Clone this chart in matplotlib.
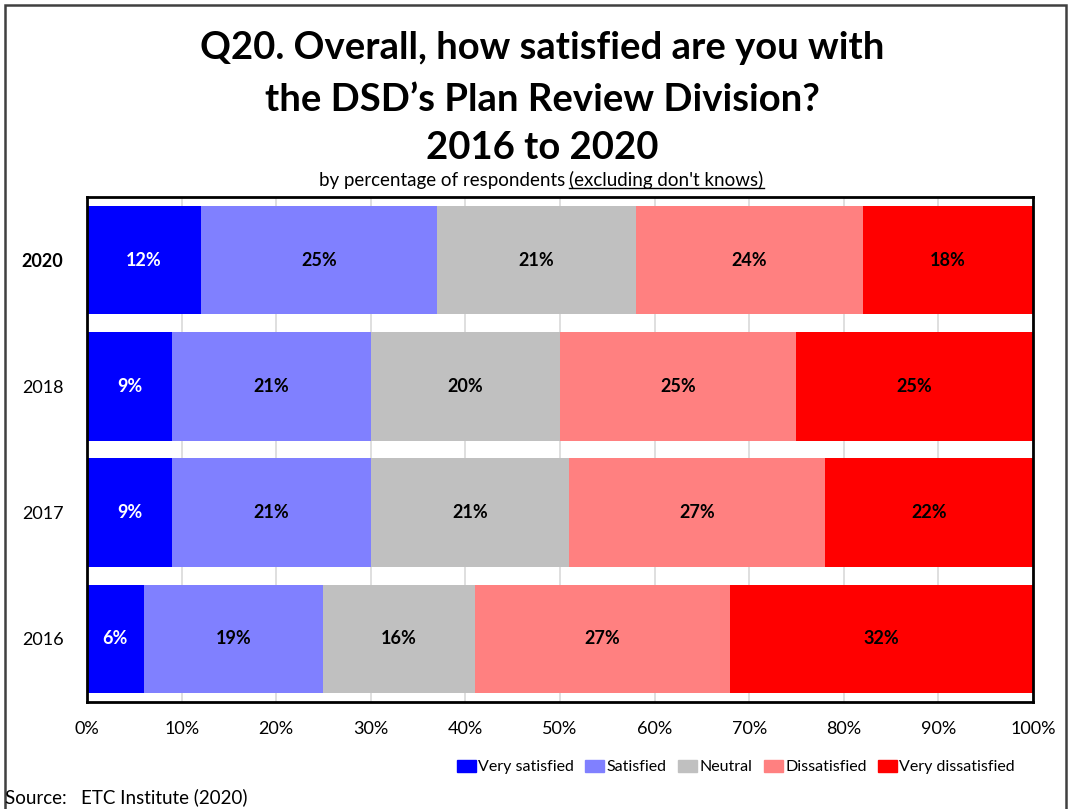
import matplotlib.pyplot as plt
from matplotlib.patches import Rectangle
from matplotlib.lines import Line2D
import numpy as np

plt.rcParams['font.family'] = ['Lato', 'DejaVu Sans']

# survey years, top to bottom
years = ['2020', '2018', '2017', '2016']
levels = ['Very satisfied', 'Satisfied', 'Neutral', 'Dissatisfied', 'Very dissatisfied']
very_satisfied = [12, 9, 9, 6]
satisfied = [25, 21, 21, 19]
neutral = [21, 20, 21, 16]
dissatisfied = [24, 25, 27, 27]
very_dissatisfied = [18, 25, 22, 32]

colors = ['#0000ff', '#8080ff', '#c0c0c0', '#ff8080', '#ff0000']
label_colors = ['white', 'black', 'black', 'black', 'black']
series = [very_satisfied, satisfied, neutral, dissatisfied, very_dissatisfied]

fig = plt.figure(figsize=(10.7, 8.09), dpi=100)
ax = fig.add_axes([0.0813, 0.1323, 0.8841, 0.6242])

ypos = np.arange(len(years))[::-1]
left = np.zeros(len(years))
for vals, col, tcol, name in zip(series, colors, label_colors, levels):
    vals = np.array(vals, dtype=float)
    bars = ax.barh(ypos, vals, left=left, height=0.86, color=col, label=name, zorder=2)
    for b, v in zip(bars, vals):
        ax.text(b.get_x() + b.get_width() / 2, b.get_y() + b.get_height() / 2,
                f'{v:.0f}%', ha='center', va='center', color=tcol,
                fontsize=13, fontweight='bold', zorder=3)
    left += vals

ax.set_xlim(0, 100)
ax.set_ylim(-0.5, len(years) - 0.5)
ax.set_xticks(np.arange(0, 101, 10))
ax.set_xticklabels([f'{v}%' for v in range(0, 101, 10)], fontsize=13)
ax.set_yticks(ypos)
ax.set_yticklabels(years, fontsize=13)
ax.get_yticklabels()[0].set_fontweight('bold')
ax.tick_params(axis='both', length=0)
ax.tick_params(axis='x', pad=14)
ax.tick_params(axis='y', pad=17)
ax.grid(axis='x', color='#d9d9d9', linewidth=1.2, zorder=0)
ax.set_axisbelow(True)
for s in ax.spines.values():
    s.set_linewidth(2)
    s.set_color('black')

# legend along the bottom right
handles = [Rectangle((0, 0), 1, 1, color=c) for c in colors]
fig.legend(handles, levels, loc='center right', bbox_to_anchor=(0.962, 0.052),
           ncol=5, frameon=False, fontsize=11.5, handlelength=1.2, handleheight=0.8,
           handletextpad=0.15, columnspacing=0.7)

# title block
fig.text(0.507, 0.941, 'Q20. Overall, how satisfied are you with',
         ha='center', va='center', fontsize=27.5, fontweight='bold')
fig.text(0.507, 0.877, 'the DSD\u2019s Plan Review Division?',
         ha='center', va='center', fontsize=27.5, fontweight='bold')
fig.text(0.507, 0.817, '2016 to 2020',
         ha='center', va='center', fontsize=27.5, fontweight='bold')

# subtitle with underlined part
sub_y = 0.777
t1 = fig.text(0, sub_y, 'by percentage of respondents', ha='left', va='center', fontsize=13.5)
t2 = fig.text(0, sub_y, "(excluding don't knows)", ha='left', va='center', fontsize=13.5)
fig.canvas.draw()
r = fig.canvas.get_renderer()
fw = fig.bbox.width
w1 = t1.get_window_extent(r).width / fw
w2 = t2.get_window_extent(r).width / fw
gap = 4 / fw
x0 = 0.506 - (w1 + gap + w2) / 2
t1.set_x(x0)
t2.set_x(x0 + w1 + gap)
bb = t2.get_window_extent(r)
uy = (bb.y0 + 1) / fig.bbox.height
fig.add_artist(Line2D([x0 + w1 + gap, x0 + w1 + gap + w2], [uy, uy],
                      color='black', linewidth=1, transform=fig.transFigure))

fig.text(0.005, 0.015, 'Source:   ETC Institute (2020)', ha='left', va='center', fontsize=13.5)

# outer frame
fig.add_artist(Rectangle((0.005, -0.02), 0.991, 1.014, transform=fig.transFigure,
                         fill=False, edgecolor='#404040', linewidth=1.8))

fig.savefig('out.png', dpi=100)
